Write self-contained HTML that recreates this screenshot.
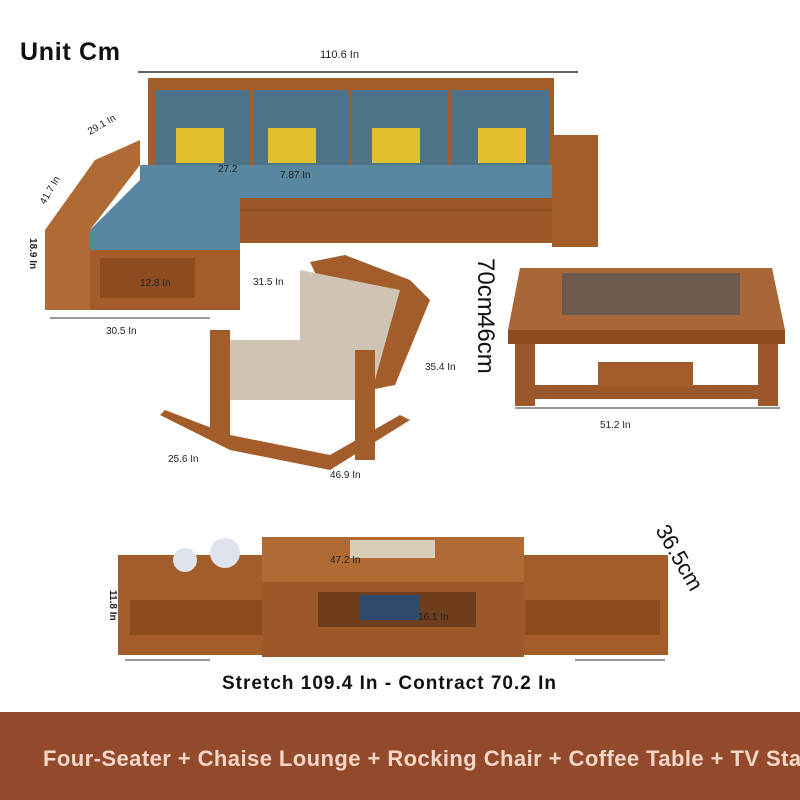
<!DOCTYPE html>
<html><head><meta charset="utf-8"><style>
html,body{margin:0;padding:0;background:#fff}
svg{display:block}
text{font-family:"Liberation Sans",sans-serif}
</style></head><body>
<svg width="800" height="800" viewBox="0 0 800 800" xmlns="http://www.w3.org/2000/svg">
<rect width="800" height="800" fill="#fff"/>
<text x="20" y="60" font-size="25" font-weight="bold" fill="#111" textLength="100">Unit Cm</text>
<!-- top dim -->
<line x1="138" y1="72" x2="578" y2="72" stroke="#333" stroke-width="1.5"/>
<text x="320" y="58" font-size="11" fill="#222">110.6 In</text>
<!-- sofa back -->
<rect x="148" y="78" width="406" height="95" fill="#a35d2a"/>
<rect x="155" y="90" width="95" height="75" fill="#4d7388"/>
<rect x="253" y="90" width="96" height="75" fill="#4d7388"/>
<rect x="352" y="90" width="96" height="75" fill="#4d7388"/>
<rect x="451" y="90" width="98" height="75" fill="#4d7388"/>
<rect x="176" y="128" width="48" height="35" fill="#e2c030"/>
<rect x="268" y="128" width="48" height="35" fill="#e2c030"/>
<rect x="372" y="128" width="48" height="35" fill="#e2c030"/>
<rect x="478" y="128" width="48" height="35" fill="#e2c030"/>
<!-- seats -->
<polygon points="140,165 552,165 552,198 240,198 240,185 140,185" fill="#5a87a0"/>
<rect x="240" y="198" width="315" height="45" fill="#9c5828"/>
<line x1="240" y1="210" x2="555" y2="210" stroke="#7a4019"/>
<!-- chaise -->
<polygon points="140,180 240,185 240,250 85,250 90,230" fill="#5a87a0"/>
<rect x="85" y="250" width="155" height="60" fill="#a35d2a"/>
<rect x="100" y="258" width="95" height="40" fill="#8c4c20"/>
<!-- left arm -->
<polygon points="45,230 95,160 140,140 140,165 90,230 90,310 45,310" fill="#b06a33"/>
<!-- right arm -->
<rect x="552" y="135" width="46" height="112" fill="#a35d2a"/>
<text x="90" y="135" font-size="10" fill="#222" transform="rotate(-30 90 135)">29.1 In</text>
<text x="45" y="205" font-size="10" fill="#222" transform="rotate(-60 45 205)">41.7 In</text>
<text x="30" y="238" font-size="10" fill="#222" font-weight="bold" transform="rotate(90 30 238)">18.9 In</text>
<text x="218" y="172" font-size="10" fill="#222">27.2</text>
<text x="280" y="178" font-size="10" fill="#222">7.87 In</text>
<text x="140" y="286" font-size="10" fill="#222">12.8 In</text>
<line x1="50" y1="318" x2="210" y2="318" stroke="#333"/>
<text x="106" y="334" font-size="10" fill="#222">30.5 In</text>
<!-- rocking chair -->
<polygon points="310,262 345,255 410,280 430,300 395,385 370,390" fill="#a35d2a"/>
<polygon points="300,270 400,290 375,380 300,370" fill="#cfc3b3"/>
<rect x="220" y="340" width="140" height="60" fill="#cfc3b3"/>
<rect x="210" y="330" width="20" height="110" fill="#a35d2a"/>
<rect x="355" y="350" width="20" height="110" fill="#a35d2a"/>
<polygon points="160,415 230,450 330,470 410,420 400,415 330,455 230,435 165,410" fill="#a35d2a"/>
<text x="253" y="285" font-size="10" fill="#222">31.5 In</text>
<text x="425" y="370" font-size="10" fill="#222">35.4 In</text>
<text x="168" y="462" font-size="10" fill="#222">25.6 In</text>
<text x="330" y="478" font-size="10" fill="#222">46.9 In</text>
<!-- coffee table -->
<polygon points="520,268 772,268 785,330 508,330" fill="#a96636"/>
<rect x="562" y="273" width="178" height="42" fill="#6d5a4e"/>
<rect x="508" y="330" width="277" height="14" fill="#8c4c20"/>
<rect x="515" y="344" width="20" height="62" fill="#9c5828"/>
<rect x="758" y="344" width="20" height="62" fill="#9c5828"/>
<rect x="535" y="385" width="225" height="14" fill="#9c5828"/>
<rect x="598" y="362" width="95" height="25" fill="#a35d2a"/>
<line x1="515" y1="408" x2="780" y2="408" stroke="#333"/>
<text x="600" y="428" font-size="10" fill="#222">51.2 In</text>
<text x="478" y="258" font-size="24" fill="#111" transform="rotate(90 478 258)">70cm</text>
<text x="478" y="315" font-size="24" fill="#111" transform="rotate(90 478 315)">46cm</text>
<!-- TV stand -->
<rect x="118" y="555" width="150" height="100" fill="#a35d2a"/>
<rect x="520" y="555" width="148" height="100" fill="#a35d2a"/>
<rect x="130" y="600" width="170" height="35" fill="#8c4c20"/>
<rect x="525" y="600" width="135" height="35" fill="#8c4c20"/>
<rect x="262" y="537" width="262" height="45" fill="#b06a33"/>
<rect x="262" y="582" width="262" height="75" fill="#9c5828"/>
<rect x="318" y="592" width="158" height="35" fill="#6e3d1c"/>
<rect x="360" y="595" width="60" height="25" fill="#2f4a6a"/>
<rect x="350" y="540" width="85" height="18" fill="#d8cdb8"/>
<circle cx="185" cy="560" r="12" fill="#dfe3ec"/>
<circle cx="225" cy="553" r="15" fill="#dfe3ec"/>
<text x="330" y="563" font-size="10" fill="#222">47.2 In</text>
<text x="418" y="620" font-size="10" fill="#222">16.1 In</text>
<text x="110" y="590" font-size="10" fill="#222" font-weight="bold" transform="rotate(90 110 590)">11.8 In</text>
<text x="655" y="530" font-size="22" fill="#111" transform="rotate(60 655 530)">36.5cm</text>
<line x1="125" y1="660" x2="210" y2="660" stroke="#333"/>
<line x1="575" y1="660" x2="665" y2="660" stroke="#333"/>
<text x="222" y="689" font-size="19" font-weight="bold" fill="#111" textLength="334">Stretch 109.4 In - Contract 70.2 In</text>
<!-- banner -->
<rect x="0" y="712" width="800" height="88" fill="#924a2b"/>
<text x="43" y="766" font-size="22" font-weight="bold" fill="#f6d6c8" textLength="772">Four-Seater + Chaise Lounge + Rocking Chair + Coffee Table + TV Stan</text>
</svg>
</body></html>
